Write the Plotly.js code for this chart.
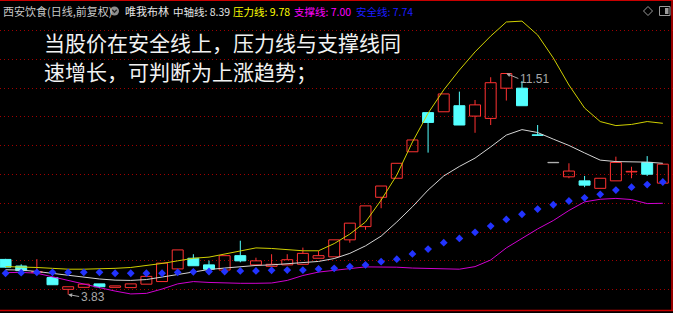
<!DOCTYPE html>
<html>
<head>
<meta charset="utf-8">
<script src="https://cdn.plot.ly/plotly-3.0.1.min.js"></script>
<style>
  html, body { margin: 0; padding: 0; background: #000; }
  #chart { width: 673px; height: 313px; }
</style>
</head>
<body>
<div id="chart"></div>
<script>
// ---- data ----
const stockTitle = "西安饮食(日线,前复权)";
const indicatorName = "唯我布林";
const seriesNames = ["中轴线", "压力线", "支撑线", "安全线"];
const noteLine1 = "当股价在安全线上，压力线与支撑线同";
const noteLine2 = "速增长，可判断为上涨趋势；";

const opens  = [5.05,4.82,4.60,4.42,4.01,4.08,4.20,4.08,4.07,4.19,4.28,4.72,5.09,4.86,4.68,5.18,4.86,4.81,4.86,4.88,5.09,5.14,5.73,6.19,7.21,7.87,8.79,10.15,10.18,10.39,10.03,9.95,11.00,11.00,9.38,8.41,7.92,7.78,7.52,7.78,8.09,8.42,7.70];
const highs  = [5.07,4.88,5.06,4.43,4.10,4.19,4.20,4.13,4.20,4.46,4.92,5.38,5.23,5.01,5.18,5.70,5.11,5.23,5.23,5.46,5.35,5.73,6.31,6.91,7.60,8.39,9.20,10.15,10.80,10.88,10.59,11.38,11.51,11.25,9.72,8.41,8.39,7.95,7.87,8.62,8.27,8.64,8.36];
const lows   = [4.76,4.65,4.57,4.16,3.83,4.08,4.05,4.08,4.07,4.19,4.28,4.72,4.83,4.71,4.68,4.95,4.86,4.81,4.86,4.88,5.09,5.14,5.63,6.08,6.83,7.87,8.79,8.76,10.18,9.72,9.45,9.72,10.57,10.39,9.34,8.41,7.87,7.56,7.52,7.78,7.87,7.95,7.70];
const closes = [4.78,4.66,4.62,4.17,4.10,4.19,4.10,4.13,4.20,4.46,4.92,5.38,4.83,4.71,5.18,5.00,5.00,4.88,5.04,5.26,5.18,5.73,6.31,6.91,7.60,8.39,9.20,9.81,10.80,9.72,10.42,11.19,11.51,10.39,9.36,8.41,8.12,7.63,7.87,8.42,8.11,8.01,8.36];

const midLine   = [4.69,4.68,4.63,4.56,4.49,4.42,4.37,4.33,4.32,4.35,4.44,4.54,4.63,4.70,4.75,4.80,4.84,4.86,4.90,4.93,4.98,5.08,5.26,5.52,5.86,6.35,6.88,7.46,7.95,8.28,8.57,8.96,9.37,9.56,9.46,9.23,9.01,8.75,8.50,8.45,8.45,8.43,8.39];
const upperLine = [4.80,4.79,4.77,4.74,4.71,4.71,4.72,4.74,4.77,4.83,4.91,5.00,5.09,5.13,5.24,5.36,5.45,5.43,5.38,5.35,5.35,5.60,5.93,6.35,7.11,7.98,9.13,10.13,10.94,11.63,12.26,12.81,13.30,13.33,12.85,12.05,11.11,10.31,9.84,9.70,9.74,9.84,9.78];
const lowerLine = [4.59,4.60,4.57,4.44,4.32,4.20,4.07,3.95,3.85,3.87,4.02,4.20,4.28,4.25,4.23,4.22,4.22,4.23,4.32,4.49,4.61,4.68,4.73,4.79,4.79,4.78,4.75,4.74,4.72,4.71,4.80,5.03,5.45,5.78,6.11,6.40,6.75,7.05,7.14,7.17,7.13,6.99,7.00];
const safeLine  = [4.57,4.59,4.60,4.60,4.60,4.60,4.60,4.57,4.57,4.57,4.57,4.60,4.62,4.63,4.63,4.65,4.65,4.67,4.68,4.68,4.72,4.74,4.80,4.86,4.97,5.06,5.24,5.41,5.63,5.78,5.99,6.21,6.44,6.62,6.80,6.95,7.08,7.19,7.31,7.46,7.56,7.65,7.74];

// ---- styling constants ----
const W = 673, H = 313;
const RED = '#ff3232', CYAN = '#54ffff', FLAT = '#b4b4b4';
const px = x => x / W;
const py = y => 1 - y / H;
const CJK = '"Noto Sans CJK SC", "Noto Sans", sans-serif';

const idx = closes.map((_, i) => i);
const up = idx.filter(i => closes[i] > opens[i]);
const dn = idx.filter(i => closes[i] < opens[i]);
const fl = idx.filter(i => closes[i] === opens[i]);

function bodyTrace(list, fill, edge) {
  return {
    type: 'bar', x: list,
    base: list.map(i => Math.min(opens[i], closes[i])),
    y: list.map(i => Math.max(Math.abs(closes[i] - opens[i]), 0.012)),
    width: 0.7,
    marker: { color: fill, line: { color: edge, width: 1 } },
    hoverinfo: 'skip'
  };
}
function wickTrace(list, color) {
  const xs = [], ys = [];
  list.forEach(i => {
    const top = Math.max(opens[i], closes[i]), bot = Math.min(opens[i], closes[i]);
    xs.push(i, i, null, i, i, null);
    ys.push(highs[i], top, null, bot, lows[i], null);
  });
  return { type: 'scatter', mode: 'lines', x: xs, y: ys, line: { color: color, width: 1 }, hoverinfo: 'skip', connectgaps: false };
}
function lineTrace(vals, color) {
  return { type: 'scatter', mode: 'lines', x: idx, y: vals, line: { color: color, width: 1 }, hoverinfo: 'skip' };
}

const traces = [
  wickTrace(up, RED), wickTrace(dn, CYAN), wickTrace(fl, FLAT),
  bodyTrace(up, 'rgba(0,0,0,0)', RED),
  bodyTrace(dn, CYAN, CYAN),
  bodyTrace(fl, FLAT, FLAT),
  lineTrace(upperLine, '#d0d000'),
  lineTrace(midLine, '#d4d4d4'),
  lineTrace(lowerLine, '#d000d0'),
  { type: 'scatter', mode: 'markers', x: idx, y: safeLine,
    marker: { symbol: 'diamond', size: 6, color: '#2233ff', line: { width: 0 } }, hoverinfo: 'skip' }
];

const last = a => a[a.length - 1].toFixed(2);
const hdrY = py(11);
function hdr(text, x, color, size) {
  return { xref: 'paper', yref: 'paper', x: px(x), y: hdrY, xanchor: 'left', yanchor: 'middle',
           text: text, showarrow: false, font: { family: CJK, size: size || 10.5, color: color } };
}
const hiIdx = highs.indexOf(Math.max(...highs));
const loIdx = lows.indexOf(Math.min(...lows));

const annotations = [
  hdr(stockTitle, 1, '#c8c8c8', 11),
  hdr(indicatorName, 123, '#e6e6e6', 11),
  hdr(seriesNames[0] + ': ' + last(midLine), 171, '#e6e6e6'),
  hdr(seriesNames[1] + ': ' + last(upperLine), 231, '#ffff00'),
  hdr(seriesNames[2] + ': ' + last(lowerLine), 292, '#ff00ff'),
  hdr(seriesNames[3] + ': ' + last(safeLine), 354, '#1c1cff'),
  { xref: 'paper', yref: 'paper', x: px(42), y: py(42.5), xanchor: 'left', yanchor: 'middle', showarrow: false,
    text: noteLine1, font: { family: CJK, size: 21, color: '#f2f2f2' } },
  { xref: 'paper', yref: 'paper', x: px(42), y: py(71), xanchor: 'left', yanchor: 'middle', showarrow: false,
    text: noteLine2, font: { family: CJK, size: 21, color: '#f2f2f2' } },
  { x: hiIdx, y: highs[hiIdx], xref: 'x', yref: 'y', text: highs[hiIdx].toFixed(2), showarrow: true,
    ax: 12, ay: 5, xanchor: 'left', yanchor: 'middle', arrowhead: 2, arrowsize: 0.8, arrowwidth: 1,
    arrowcolor: '#a8a8a8', standoff: 0, font: { family: 'Liberation Sans, sans-serif', size: 12, color: '#a8a8a8' } },
  { x: loIdx, y: lows[loIdx], xref: 'x', yref: 'y', text: lows[loIdx].toFixed(2), showarrow: true,
    ax: 11, ay: 2, xanchor: 'left', yanchor: 'middle', arrowhead: 2, arrowsize: 0.8, arrowwidth: 1,
    arrowcolor: '#a8a8a8', standoff: 0, font: { family: 'Liberation Sans, sans-serif', size: 12, color: '#a8a8a8' } }
];

const BORDER = '#c80000';
const shapes = [
  { type: 'line', xref: 'paper', yref: 'paper', x0: 0, x1: 1, y0: py(0.5), y1: py(0.5), line: { color: BORDER, width: 1 } },
  { type: 'line', xref: 'paper', yref: 'paper', x0: 0, x1: 1, y0: py(310.5), y1: py(310.5), line: { color: BORDER, width: 1.5 } },
  { type: 'line', xref: 'paper', yref: 'paper', x0: px(672), x1: px(672), y0: py(310.5), y1: 1, line: { color: BORDER, width: 1.5 } },
  // header icon (circle with chevron)
  { type: 'circle', xref: 'paper', yref: 'paper', x0: px(110), x1: px(119), y0: py(15.5), y1: py(6.5),
    fillcolor: '#8c8c8c', line: { width: 0 } },
  { type: 'path', xref: 'paper', yref: 'paper',
    path: `M ${px(112.3)} ${py(9.8)} L ${px(114.5)} ${py(12.2)} L ${px(116.7)} ${py(9.8)}`,
    line: { color: '#202020', width: 1.3 } },
  // top-right icons
  { type: 'path', xref: 'paper', yref: 'paper',
    path: `M ${px(648)} ${py(6.5)} L ${px(652.5)} ${py(11)} L ${px(648)} ${py(15.5)} L ${px(643.5)} ${py(11)} Z`,
    line: { color: '#9a9a9a', width: 1 } },
  { type: 'rect', xref: 'paper', yref: 'paper', x0: px(659.5), x1: px(670), y0: py(15.5), y1: py(6.5),
    line: { color: '#9a9a9a', width: 1 } },
  { type: 'rect', xref: 'paper', yref: 'paper', x0: px(665), x1: px(668.5), y0: py(14), y1: py(8),
    fillcolor: '#9a9a9a', line: { width: 0 } }
];

const gridVals = [4,5,6,7,8,9,10,11,12,13];

const layout = {
  width: W, height: H,
  margin: { l: 0, r: 0, t: 0, b: 0, pad: 0 },
  paper_bgcolor: '#000000', plot_bgcolor: '#000000',
  showlegend: false, barmode: 'overlay',
  xaxis: { range: [-0.355, 42.65], showgrid: false, zeroline: false, showticklabels: false, ticks: '', showline: false, fixedrange: true },
  yaxis: { range: [3.188, 14.064], tickvals: gridVals, showgrid: true, gridcolor: '#a00000', griddash: '1px,3px', gridwidth: 1,
           zeroline: false, showticklabels: false, ticks: '', showline: false, fixedrange: true },
  annotations: annotations,
  shapes: shapes
};

Plotly.newPlot('chart', traces, layout, { staticPlot: true, displayModeBar: false });
</script>
</body>
</html>
